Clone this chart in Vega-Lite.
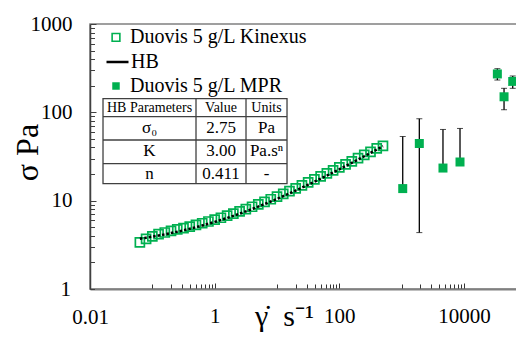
{
  "$schema": "https://vega.github.io/schema/vega-lite/v6.json",
  "width": 427,
  "height": 265,
  "autosize": {"type": "none"},
  "padding": {"left": 90, "top": 24, "right": 0, "bottom": 63},
  "background": "white",
  "config": {
    "view": {"stroke": "#808080", "strokeWidth": 1.5},
    "font": "Liberation Serif",
    "legend": {
      "orient": "none", "padding": 0,
      "labelFont": "Liberation Serif", "labelFontSize": 20, "labelColor": "black", "labelLimit": 400
    }
  },
  "datasets": {
    "kinexus": [
      {"rate": 0.0631, "stress": 3.38}, {"rate": 0.0794, "stress": 3.69}, {"rate": 0.1, "stress": 3.95},
      {"rate": 0.1259, "stress": 4.19}, {"rate": 0.1585, "stress": 4.36}, {"rate": 0.1995, "stress": 4.55},
      {"rate": 0.2512, "stress": 4.72}, {"rate": 0.3162, "stress": 4.90}, {"rate": 0.3981, "stress": 5.09},
      {"rate": 0.5012, "stress": 5.31}, {"rate": 0.631, "stress": 5.55}, {"rate": 0.7943, "stress": 5.81},
      {"rate": 1.0, "stress": 6.10}, {"rate": 1.259, "stress": 6.41}, {"rate": 1.585, "stress": 6.76},
      {"rate": 1.995, "stress": 7.14}, {"rate": 2.512, "stress": 7.56}, {"rate": 3.162, "stress": 8.02},
      {"rate": 3.981, "stress": 8.53}, {"rate": 5.012, "stress": 9.08}, {"rate": 6.31, "stress": 9.70},
      {"rate": 7.943, "stress": 10.37}, {"rate": 10.0, "stress": 11.11}, {"rate": 12.59, "stress": 11.92},
      {"rate": 15.85, "stress": 12.82}, {"rate": 19.95, "stress": 13.80}, {"rate": 25.12, "stress": 14.88},
      {"rate": 31.62, "stress": 16.07}, {"rate": 39.81, "stress": 17.38}, {"rate": 50.12, "stress": 18.81},
      {"rate": 63.1, "stress": 20.39}, {"rate": 79.43, "stress": 22.02}, {"rate": 100.0, "stress": 23.80},
      {"rate": 125.9, "stress": 25.75}, {"rate": 158.5, "stress": 27.89}, {"rate": 199.5, "stress": 30.38},
      {"rate": 251.2, "stress": 32.94}, {"rate": 316.2, "stress": 35.75}, {"rate": 398.1, "stress": 39.02},
      {"rate": 501.2, "stress": 41.79}
    ],
    "hb": [
      {"rate": 0.0631, "stress": 3.714}, {"rate": 0.0794, "stress": 3.809}, {"rate": 0.1, "stress": 3.915},
      {"rate": 0.1259, "stress": 4.030}, {"rate": 0.1585, "stress": 4.157}, {"rate": 0.1995, "stress": 4.297},
      {"rate": 0.2512, "stress": 4.451}, {"rate": 0.3162, "stress": 4.620}, {"rate": 0.3981, "stress": 4.805},
      {"rate": 0.5012, "stress": 5.009}, {"rate": 0.631, "stress": 5.234}, {"rate": 0.7943, "stress": 5.480},
      {"rate": 1.0, "stress": 5.750}, {"rate": 1.259, "stress": 6.048}, {"rate": 1.585, "stress": 6.375},
      {"rate": 1.995, "stress": 6.735}, {"rate": 2.512, "stress": 7.131}, {"rate": 3.162, "stress": 7.566},
      {"rate": 3.981, "stress": 8.044}, {"rate": 5.012, "stress": 8.570}, {"rate": 6.31, "stress": 9.148},
      {"rate": 7.943, "stress": 9.783}, {"rate": 10.0, "stress": 10.479}, {"rate": 12.59, "stress": 11.248},
      {"rate": 15.85, "stress": 12.091}, {"rate": 19.95, "stress": 13.019}, {"rate": 25.12, "stress": 14.039},
      {"rate": 31.62, "stress": 15.160}, {"rate": 39.81, "stress": 16.393}, {"rate": 50.12, "stress": 17.747},
      {"rate": 63.1, "stress": 19.237}, {"rate": 79.43, "stress": 20.874}, {"rate": 100.0, "stress": 22.662},
      {"rate": 125.9, "stress": 24.643}, {"rate": 158.5, "stress": 26.817}, {"rate": 199.5, "stress": 29.207},
      {"rate": 251.2, "stress": 31.825}, {"rate": 316.2, "stress": 34.712}, {"rate": 398.1, "stress": 37.885},
      {"rate": 501.2, "stress": 41.373}
    ],
    "mpr": [
      {"rate": 1040, "stress": 13.7, "lo": 13.7, "hi": 53.3},
      {"rate": 1920, "stress": 44.4, "lo": 4.35, "hi": 84.6},
      {"rate": 4600, "stress": 23.4, "lo": 23.4, "hi": 64.0},
      {"rate": 8630, "stress": 27.4, "lo": 27.4, "hi": 65.7},
      {"rate": 34300, "stress": 272, "lo": 232, "hi": 312},
      {"rate": 43900, "stress": 150, "lo": 107, "hi": 187},
      {"rate": 60500, "stress": 224, "lo": 187, "hi": 258}
    ]
  },
  "layer": [
    {
      "data": {"name": "kinexus"},
      "mark": {"type": "point", "filled": false, "size": 81, "strokeWidth": 1.7, "opacity": 1, "color": "#00b050"},
      "encoding": {
        "x": {
          "field": "rate", "type": "quantitative",
          "scale": {"type": "log", "domain": [0.01, 70850], "nice": false},
          "axis": {
            "title": "γ̇\u00a0 s⁻¹",
            "titleFont": "Liberation Serif", "titleFontSize": 30, "titleFontWeight": "normal", "titleColor": "black",
            "titleX": 194, "titleY": 36, "titleBaseline": "alphabetic", "titleAlign": "center", "titleAngle": 0,
            "values": [0.01, 0.1, 0.2, 0.3, 0.4, 0.5, 0.6, 0.7, 0.8, 0.9, 1, 10, 20, 30, 40, 50, 60, 70, 80, 90, 100, 1000, 2000, 3000, 4000, 5000, 6000, 7000, 8000, 9000, 10000],
            "labelExpr": "datum.value === 0.01 ? '0.01' : (datum.value === 1 || datum.value === 100 || datum.value === 10000) ? format(datum.value, 'd') : ''",
            "labelFont": "Liberation Serif", "labelFontSize": 21, "labelColor": "black",
            "labelPadding": 22, "labelOverlap": false, "labelFlush": false,
            "grid": false, "domainColor": "#808080", "domainWidth": 2,
            "tickColor": "#333333", "tickWidth": 1,
            "tickSize": {"condition": {"test": "datum.value === 1 || datum.value === 100 || datum.value === 10000", "value": -6}, "value": -5}
          }
        },
        "y": {
          "field": "stress", "type": "quantitative", "title": "σ Pa",
          "scale": {"type": "log", "domain": [1, 1000], "nice": false},
          "axis": {
            "title": "σ Pa",
            "titleFont": "Liberation Serif", "titleFontSize": 32, "titleFontWeight": "normal", "titleColor": "black",
            "titleX": -53, "titleY": 128, "titleBaseline": "alphabetic", "titleAlign": "center", "titleAngle": -90,
            "values": [1, 2, 3, 4, 5, 6, 7, 8, 9, 10, 20, 30, 40, 50, 60, 70, 80, 90, 100, 200, 300, 400, 500, 600, 700, 800, 900, 1000],
            "labelExpr": "(datum.value === 1 || datum.value === 10 || datum.value === 100 || datum.value === 1000) ? format(datum.value, 'd') : ''",
            "labelFont": "Liberation Serif", "labelFontSize": 21, "labelColor": "black",
            "labelPadding": 24, "labelOverlap": false, "labelFlush": false,
            "grid": false, "domainColor": "#404040", "domainWidth": 1.5,
            "tickColor": "#404040", "tickWidth": 1,
            "tickSize": {"condition": {"test": "datum.value === 10 || datum.value === 100 || datum.value === 1000", "value": -6}, "value": -4.5}
          }
        },
        "shape": {
          "datum": "Duovis 5 g/L Kinexus",
          "scale": {"domain": ["Duovis 5 g/L Kinexus"], "range": ["square"]},
          "legend": {
            "title": null, "legendX": 16, "legendY": 3.4, "symbolSize": 60, "symbolStrokeWidth": 1.6, "labelOffset": 4,
            "labelFont": "Liberation Serif", "labelFontSize": 20, "labelColor": "black", "labelLimit": 400
          }
        }
      }
    },
    {
      "data": {"name": "mpr"},
      "mark": {"type": "errorbar", "ticks": {"size": 6, "color": "black", "strokeWidth": 1.2}, "rule": {"color": "black", "strokeWidth": 1.3}},
      "encoding": {
        "x": {"field": "rate", "type": "quantitative"},
        "y": {"field": "lo", "type": "quantitative", "title": "σ Pa"},
        "y2": {"field": "hi"}
      }
    },
    {
      "data": {"name": "mpr"},
      "mark": {"type": "point", "shape": "square", "filled": true, "size": 81, "color": "#00b050"},
      "encoding": {
        "x": {"field": "rate", "type": "quantitative"},
        "y": {"field": "stress", "type": "quantitative", "title": "σ Pa"},
        "opacity": {
          "datum": "Duovis 5 g/L MPR",
          "scale": {"type": "point", "domain": ["Duovis 5 g/L MPR"], "range": [1, 1]},
          "legend": {
            "title": null, "legendX": 16, "legendY": 52, "symbolSize": 56, "symbolType": "square", "labelOffset": 4,
            "labelFont": "Liberation Serif", "labelFontSize": 20, "labelColor": "black", "labelLimit": 400
          }
        }
      }
    },
    {
      "data": {"name": "hb"},
      "mark": {"type": "line", "strokeDash": [2.5, 2], "color": "black"},
      "encoding": {
        "x": {"field": "rate", "type": "quantitative"},
        "y": {"field": "stress", "type": "quantitative", "title": "σ Pa"},
        "strokeWidth": {
          "datum": "HB",
          "scale": {"type": "point", "domain": ["HB"], "range": [2.5, 2.5]},
          "legend": {
            "title": null, "legendX": 15, "legendY": 25.6, "symbolSize": 484, "symbolType": "stroke", "symbolDash": [1, 0], "labelOffset": 1,
            "labelFont": "Liberation Serif", "labelFontSize": 20, "labelColor": "black", "labelLimit": 400
          }
        }
      }
    },
    {
      "data": {"values": [{}]},
      "mark": {"type": "rect", "fill": "white", "stroke": "#404040", "strokeWidth": 1.3},
      "encoding": {
        "x": {"datum": 0.01617, "type": "quantitative"}, "x2": {"datum": 14.48},
        "y": {"datum": 142.7, "type": "quantitative"}, "y2": {"datum": 15.56}
      }
    },
    {
      "data": {"values": [{}]},
      "mark": {"type": "rule", "color": "#404040", "strokeWidth": 1.3},
      "encoding": {"x": {"datum": 0.01617, "type": "quantitative"}, "x2": {"datum": 14.48}, "y": {"datum": 89.27, "type": "quantitative"}}
    },
    {
      "data": {"values": [{}]},
      "mark": {"type": "rule", "color": "#404040", "strokeWidth": 1.3},
      "encoding": {"x": {"datum": 0.01617, "type": "quantitative"}, "x2": {"datum": 14.48}, "y": {"datum": 48.63, "type": "quantitative"}}
    },
    {
      "data": {"values": [{}]},
      "mark": {"type": "rule", "color": "#404040", "strokeWidth": 1.3},
      "encoding": {"x": {"datum": 0.01617, "type": "quantitative"}, "x2": {"datum": 14.48}, "y": {"datum": 26.21, "type": "quantitative"}}
    },
    {
      "data": {"values": [{}]},
      "mark": {"type": "rule", "color": "#404040", "strokeWidth": 1.3},
      "encoding": {"x": {"datum": 0.5019, "type": "quantitative"}, "y": {"datum": 142.7, "type": "quantitative"}, "y2": {"datum": 15.56}}
    },
    {
      "data": {"values": [{}]},
      "mark": {"type": "rule", "color": "#404040", "strokeWidth": 1.3},
      "encoding": {"x": {"datum": 3.183, "type": "quantitative"}, "y": {"datum": 142.7, "type": "quantitative"}, "y2": {"datum": 15.56}}
    },
    {
      "data": {"values": [{}]},
      "mark": {"type": "text", "text": "HB Parameters", "font": "Liberation Serif", "fontSize": 14, "color": "black", "align": "center", "baseline": "middle"},
      "encoding": {"x": {"datum": 0.0901, "type": "quantitative"}, "y": {"datum": 112.9, "type": "quantitative"}}
    },
    {
      "data": {"values": [{}]},
      "mark": {"type": "text", "text": "Value", "font": "Liberation Serif", "fontSize": 14, "color": "black", "align": "center", "baseline": "middle"},
      "encoding": {"x": {"datum": 1.264, "type": "quantitative"}, "y": {"datum": 112.9, "type": "quantitative"}}
    },
    {
      "data": {"values": [{}]},
      "mark": {"type": "text", "text": "Units", "font": "Liberation Serif", "fontSize": 14, "color": "black", "align": "center", "baseline": "middle"},
      "encoding": {"x": {"datum": 6.787, "type": "quantitative"}, "y": {"datum": 112.9, "type": "quantitative"}}
    },
    {
      "data": {"values": [{}]},
      "mark": {"type": "text", "text": ["σ₀", "K", "n"], "lineHeight": 22.7, "font": "Liberation Serif", "fontSize": 17, "color": "black", "align": "center", "baseline": "middle"},
      "encoding": {"x": {"datum": 0.0901, "type": "quantitative"}, "y": {"datum": 65.96, "type": "quantitative"}}
    },
    {
      "data": {"values": [{}]},
      "mark": {"type": "text", "text": ["2.75", "3.00", "0.411"], "lineHeight": 22.7, "font": "Liberation Serif", "fontSize": 17, "color": "black", "align": "center", "baseline": "middle"},
      "encoding": {"x": {"datum": 1.264, "type": "quantitative"}, "y": {"datum": 65.96, "type": "quantitative"}}
    },
    {
      "data": {"values": [{}]},
      "mark": {"type": "text", "text": ["Pa", "Pa.sⁿ", "-"], "lineHeight": 22.7, "font": "Liberation Serif", "fontSize": 17, "color": "black", "align": "center", "baseline": "middle"},
      "encoding": {"x": {"datum": 6.787, "type": "quantitative"}, "y": {"datum": 65.96, "type": "quantitative"}}
    }
  ]
}
